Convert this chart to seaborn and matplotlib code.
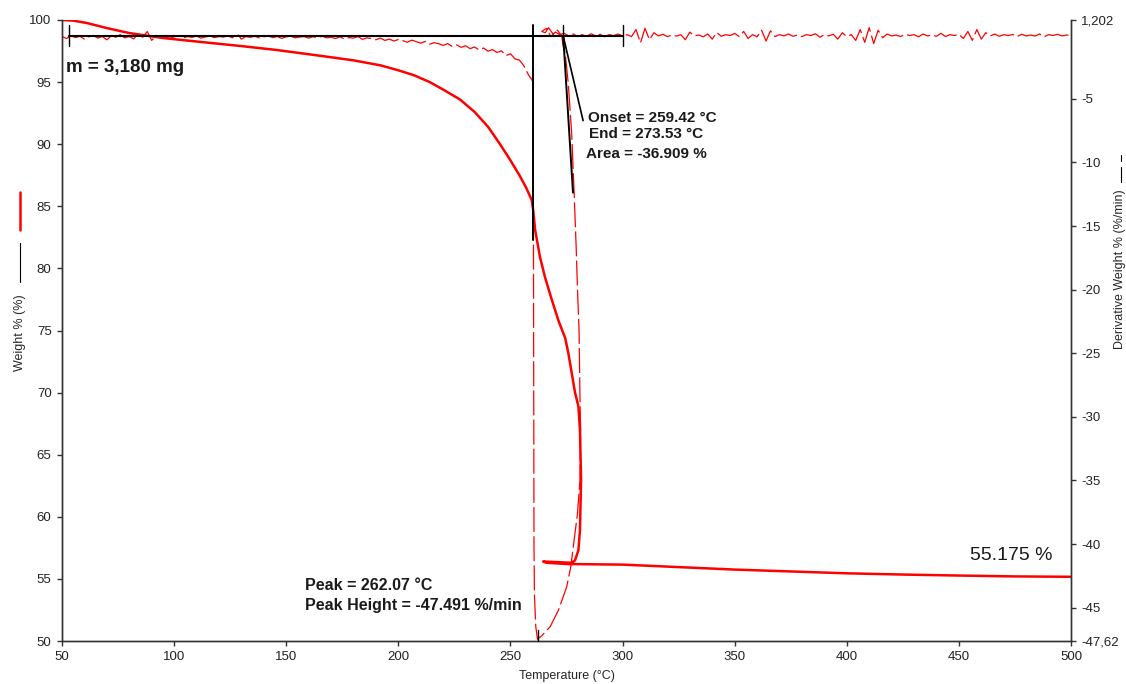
import numpy as np
import pandas as pd
import seaborn as sns
import matplotlib.pyplot as plt
from matplotlib.lines import Line2D

sns.set_style('white')
plt.rcParams['font.family'] = ['Liberation Sans', 'DejaVu Sans']
plt.rcParams['lines.scale_dashes'] = False

# weight curve (left axis) - kept in recorded order, temperature runs back after the step
weight_t = [50, 55, 61, 70, 80, 95, 112, 130, 145, 156, 168, 180, 192, 200, 207, 214, 220, 227.5, 234, 240,
            245, 250, 254, 257, 259.5, 260.2, 261, 263.2, 265.4, 268.4, 271.4, 274.4, 275.8, 277.3, 278.8,
            280.3, 281, 281.5, 281, 280.3, 278.8, 277.3, 264.6, 266, 275, 300, 325, 350, 375, 400, 425,
            450, 475, 500]
weight_pct = [100, 99.95, 99.76, 99.35, 98.95, 98.55, 98.23, 97.9, 97.6, 97.34, 97.05, 96.75, 96.35, 95.95, 95.55,
              95.0, 94.4, 93.6, 92.6, 91.4, 90.1, 88.7, 87.5, 86.5, 85.5, 84.6, 83.1, 80.9, 79.3, 77.5, 75.8,
              74.4, 73.2, 71.6, 70.0, 68.9, 67.0, 63.0, 58.9, 57.3, 56.5, 56.3, 56.4, 56.3, 56.2, 56.15, 55.95,
              55.75, 55.6, 55.45, 55.35, 55.27, 55.2, 55.17]

# derivative curve (right axis), %/min
deriv_base_t = np.arange(50, 259, 2)
deriv_base = [-0.10, -0.25, -0.05, -0.18, -0.08, -0.30, -0.12, -0.02, -0.22, -0.10,
              -0.35, -0.06, -0.15, 0.05, -0.20, -0.10, -0.28, 0.10, -0.15, 0.30,
              -0.40, -0.05, -0.18, -0.08, -0.25, -0.12, -0.04, -0.20, -0.10, -0.16,
              -0.06, -0.22, -0.12, -0.08, -0.18, -0.10, -0.14, -0.05, -0.20, 0.15,
              -0.30, -0.10, -0.16, -0.08, -0.20, -0.12, -0.06, -0.18, -0.10, -0.24,
              -0.12, -0.08, -0.20, -0.14, -0.10, -0.22, -0.12, -0.18, -0.08, -0.20,
              -0.15, -0.25, -0.12, -0.30, -0.18, -0.22, -0.10, -0.32, -0.20, -0.26,
              -0.35, -0.22, -0.40, -0.30, -0.45, -0.33, -0.42, -0.55, -0.38, -0.50,
              -0.62, -0.48, -0.70, -0.58, -0.66, -0.80, -0.65, -0.88, -0.75, -0.95,
              -0.82, -1.05, -0.92, -1.15, -1.00, -1.25, -1.12, -1.35, -1.22, -1.60,
              -1.45, -1.85, -1.95, -2.40, -3.10]
deriv_peak_t = [259.6, 260.0, 260.2, 260.3, 260.4, 260.5, 260.7, 261.3, 262.07,
                264, 267.7, 271.4, 275.1, 276.9, 278.4, 279.9, 281.0, 281.3, 281.0, 280.6, 280.0,
                279.3, 278.4, 277.3, 275.8, 274.4, 273.6, 272.9, 271, 269, 267, 265.5]
deriv_peak = [-3.5, -3.7, -10, -20, -30, -40, -44, -46.5, -47.49,
              -47.2, -46.5, -45.2, -43.35, -41.8, -39.7, -37.6, -35.0, -31.0, -28.4, -23.2, -20.5,
              -16.6, -12.4, -7.7, -3.8, -1.4, -0.9, -0.1, 0.4, 0.1, 0.6, 0.2]
deriv_tail_t = np.arange(264, 501, 2)
deriv_tail = [0.30, 0.55, -0.10, 0.25, 0.05, 0.15, -0.05, 0.10, -0.10, 0.05,
              -0.08, 0.12, -0.05, 0.08, -0.12, 0.05, -0.02, 0.10, -0.05, 0.05,
              -0.10, 0.45, -0.60, 0.55, -0.35, 0.20, -0.05, 0.08, -0.10, 0.02,
              -0.06, 0.05, -0.35, 0.25, -0.05, 0.02, -0.12, 0.10, -0.30, 0.22,
              -0.08, 0.05, -0.02, 0.15, -0.10, 0.30, -0.25, 0.05, -0.12, 0.40,
              -0.45, 0.35, -0.10, 0.05, -0.05, 0.10, -0.08, 0.02, -0.10, 0.05,
              -0.02, 0.12, -0.15, 0.05, -0.05, 0.08, -0.30, 0.20, -0.10, 0.05,
              -0.40, 0.45, -0.55, 0.60, -0.65, 0.40, -0.20, 0.10, -0.05, 0.02,
              -0.10, 0.08, -0.02, 0.05, -0.12, 0.10, -0.05, 0.02, -0.08, 0.15,
              -0.10, 0.05, -0.02, 0.08, -0.25, 0.30, -0.40, 0.45, -0.30, 0.20,
              -0.05, 0.10, -0.08, 0.05, -0.02, 0.06, -0.10, 0.08, -0.05, 0.02,
              -0.06, 0.10, -0.12, 0.05, -0.02, 0.08, -0.05, 0.02, -0.03]

temp_ticks = list(range(50, 501, 50))
weight_ticks = list(range(50, 101, 5))
deriv_ticks = [1.202, -5, -10, -15, -20, -25, -30, -35, -40, -45, -47.62]
deriv_tick_labels = ['1,202', '-5', '-10', '-15', '-20', '-25', '-30', '-35', '-40', '-45', '-47,62']

# analysis results
onset_t, end_t, step_area = 259.42, 273.53, -36.909
peak_t, peak_height = 262.07, -47.491
residue = 55.175
sample_mass = '3,180'
baseline_w = 98.71
baseline_from, baseline_to = 53, 300

weight_df = pd.DataFrame({'T': weight_t, 'W': weight_pct})
deriv_df = pd.DataFrame({
    'T': np.concatenate([deriv_base_t, deriv_peak_t, deriv_tail_t]),
    'D': np.concatenate([deriv_base, deriv_peak, deriv_tail]),
})

fig = plt.figure(figsize=(11.26, 6.84), dpi=100)
ax = fig.add_axes([62 / 1126, 1 - 641 / 684, 1009 / 1126, 621 / 684])
ax2 = ax.twinx()

sns.lineplot(data=weight_df, x='T', y='W', sort=False, estimator=None, ax=ax,
             color='#ff0000', lw=1.8)
sns.lineplot(data=deriv_df, x='T', y='D', sort=False, estimator=None, ax=ax2,
             color='#ff0000', lw=0.9, linestyle=(0, (18, 3)))

# step analysis marks (drawn in weight coordinates, above both curves)
tr = ax.transData
k = dict(color='black', transform=tr, clip_on=False, zorder=5)
ax2.plot([baseline_from, baseline_to], [baseline_w, baseline_w], lw=1.5, **k)
for xt in (baseline_from, baseline_to, end_t):
    ax2.plot([xt, xt], [99.6, 97.9], lw=1.0, **k)
ax2.plot([onset_t + 0.6, onset_t + 0.6], [99.6, 82.3], lw=1.4, **k)
ax2.plot([end_t, 277.9], [baseline_w, 86.1], lw=1.4, **k)
ax2.plot([end_t, 282.4], [baseline_w, 91.9], lw=1.2, **k)
ax2.plot([peak_t, peak_t], [50, 50.9], lw=1.0, **k)

bold = dict(fontsize=11, fontweight='bold', color='#1a1a1a', va='center', ha='left')
ax.text(51.8, 96.2, f'm = {sample_mass} mg', fontsize=13.5, fontweight='bold', color='#1a1a1a', va='center')
ax.text(284.6, 92.1, f'Onset = {onset_t:.2f} °C', **bold)
ax.text(284.9, 90.8, f'End = {end_t:.2f} °C', **bold)
ax.text(283.8, 89.2, f'Area = {step_area:.3f} %', **bold)
ax.text(158.4, 54.5, f'Peak = {peak_t:.2f} °C', **dict(bold, fontsize=11.5))
ax.text(158.4, 52.85, f'Peak Height = {peak_height:.3f} %/min', **dict(bold, fontsize=11.5))
ax.text(455, 56.85, f'{residue:.3f} %', fontsize=14, color='#1a1a1a', va='center', ha='left')

ax.set_xlim(50, 500)
ax.set_ylim(50, 100)
ax2.set_ylim(deriv_ticks[-1], deriv_ticks[0])
ax.set_xticks(temp_ticks)
ax.set_yticks(weight_ticks)
ax2.set_yticks(deriv_ticks, deriv_tick_labels)
ax.set_xlabel('Temperature (°C)', fontsize=9, labelpad=5)
ax.set_ylabel('')
ax2.set_ylabel('')

for a in (ax, ax2):
    a.spines['top'].set_visible(False)
    for s in ('left', 'right', 'bottom'):
        a.spines[s].set_color('#333333')
        a.spines[s].set_linewidth(1.0)
ax.tick_params(bottom=True, left=True, direction='out', length=3.5, width=1, color='#333333',
               labelsize=9.5, labelcolor='#222222', pad=4)
ax2.tick_params(right=True, direction='out', length=3.5, width=1, color='#333333',
                labelsize=9.5, labelcolor='#222222', pad=4)

# axis titles with their line keys
fig.text(20 / 1126, 1 - 333 / 684, 'Weight % (%)', rotation=90, ha='center', va='center', fontsize=9)
fig.add_artist(Line2D([20 / 1126] * 2, [1 - 192 / 684, 1 - 230 / 684], color='#ff0000', lw=1.8))
fig.add_artist(Line2D([20 / 1126] * 2, [1 - 243 / 684, 1 - 282 / 684], color='black', lw=0.8))
fig.text(1120 / 1126, 1 - 269 / 684, 'Derivative Weight % (%/min)', rotation=90, ha='center', va='center', fontsize=9)
fig.add_artist(Line2D([1121 / 1126] * 2, [1 - 167 / 684, 1 - 182 / 684], color='black', lw=0.8))
fig.add_artist(Line2D([1121 / 1126] * 2, [1 - 155 / 684, 1 - 161 / 684], color='black', lw=0.8))

fig.savefig('out.png', dpi=100)
